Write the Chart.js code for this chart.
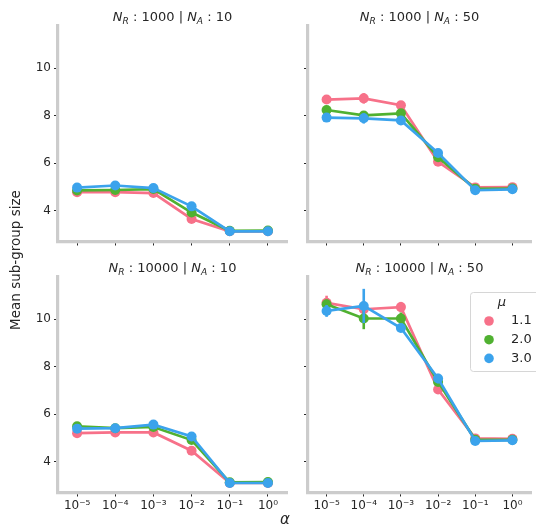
<!DOCTYPE html>
<html>
<head>
<meta charset="utf-8">
<script src="https://cdn.jsdelivr.net/npm/chart.js@4"></script>
<style>
  html, body { margin: 0; padding: 0; background: #fff; }
  #wrap { position: relative; width: 536px; height: 531px; overflow: hidden; }
  #wrap canvas { position: absolute; left: 0; top: 0; }
</style>
</head>
<body>
<div id="wrap">
  <canvas id="pA" width="536" height="531"></canvas>
  <canvas id="pB" width="536" height="531"></canvas>
  <canvas id="pC" width="536" height="531"></canvas>
  <canvas id="pD" width="536" height="531"></canvas>
</div>
<script>
// categories and tick labels
const alphaLabels = ['10⁻⁵', '10⁻⁴', '10⁻³', '10⁻²', '10⁻¹', '10⁰'];
const muLabels = ['1.1', '2.0', '3.0'];
const yTicks = [4, 6, 8, 10];

// N_R 1000 | N_A 10
const a_mu11 = [4.78, 4.78, 4.74, 3.65, 3.13, 3.13];
const a_mu20 = [4.85, 4.87, 4.91, 3.92, 3.15, 3.16];
const a_mu30 = [4.97, 5.06, 4.95, 4.18, 3.13, 3.13];
const a_err11 = [0.05, 0.05, 0.05, 0.08, 0.03, 0.03];
const a_err20 = [0.05, 0.05, 0.05, 0.08, 0.03, 0.03];
const a_err30 = [0.05, 0.05, 0.05, 0.08, 0.03, 0.03];

// N_R 1000 | N_A 50
const b_mu11 = [8.68, 8.73, 8.44, 6.06, 4.98, 4.99];
const b_mu20 = [8.24, 8.01, 8.10, 6.25, 4.92, 4.93];
const b_mu30 = [7.92, 7.89, 7.80, 6.43, 4.86, 4.90];
const b_err11 = [0.1, 0.22, 0.1, 0.1, 0.05, 0.05];
const b_err20 = [0.1, 0.1, 0.1, 0.1, 0.05, 0.05];
const b_err30 = [0.1, 0.22, 0.18, 0.1, 0.05, 0.05];

// N_R 10000 | N_A 10
const c_mu11 = [5.20, 5.23, 5.23, 4.46, 3.10, 3.10];
const c_mu20 = [5.49, 5.41, 5.46, 4.91, 3.13, 3.14];
const c_mu30 = [5.39, 5.41, 5.56, 5.06, 3.10, 3.10];
const c_err11 = [0.05, 0.05, 0.05, 0.08, 0.03, 0.03];
const c_err20 = [0.05, 0.05, 0.05, 0.08, 0.03, 0.03];
const c_err30 = [0.05, 0.05, 0.08, 0.08, 0.03, 0.03];

// N_R 10000 | N_A 50
const d_mu11 = [10.69, 10.42, 10.51, 7.04, 4.98, 4.96];
const d_mu20 = [10.63, 10.03, 10.03, 7.36, 4.92, 4.92];
const d_mu30 = [10.35, 10.56, 9.63, 7.50, 4.87, 4.90];
const d_err11 = [0.3, 0.1, 0.22, 0.12, 0.05, 0.05];
const d_err20 = [0.2, 0.45, 0.25, 0.15, 0.05, 0.05];
const d_err30 = [0.25, 0.72, 0.15, 0.2, 0.05, 0.05];

const colors = ['#f77189', '#50b131', '#3ba3ec'];
const textColor = '#262626';
const FONT = '"DejaVu Sans", sans-serif';

// error bars under each dataset's points
const errorBars = {
  id: 'errorBars',
  beforeDatasetDraw(chart, args) {
    const ds = chart.data.datasets[args.index];
    if (!ds.errors) return;
    const y = chart.scales.y;
    const ctx = chart.ctx;
    ctx.save();
    ctx.strokeStyle = ds.borderColor;
    ctx.lineWidth = 2.6;
    ds.data.forEach((v, i) => {
      const x = args.meta.data[i].x;
      ctx.beginPath();
      ctx.moveTo(x, y.getPixelForValue(v - ds.errors[i]));
      ctx.lineTo(x, y.getPixelForValue(v + ds.errors[i]));
      ctx.stroke();
    });
    ctx.restore();
  }
};

function drawFacetTitle(ctx, cx, cy, nr, na) {
  const fs = 13;
  const up = fs + 'px ' + FONT;
  const it = 'italic ' + fs + 'px ' + FONT;
  const sb = 'italic ' + (fs * 0.7).toFixed(1) + 'px ' + FONT;
  const segs = [[it, 'N', 0], [sb, 'R', 3], [up, ' : ' + nr + ' | ', 0],
                [it, 'N', 0], [sb, 'A', 3], [up, ' : ' + na, 0]];
  let w = 0;
  for (const s of segs) { ctx.font = s[0]; w += ctx.measureText(s[1]).width; }
  let x = cx - w / 2;
  ctx.fillStyle = textColor;
  ctx.textBaseline = 'alphabetic';
  ctx.textAlign = 'left';
  for (const s of segs) {
    ctx.font = s[0];
    ctx.fillText(s[1], x, cy + 4.5 + s[2]);
    x += ctx.measureText(s[1]).width;
  }
}

const facetTitle = {
  id: 'facetTitle',
  afterDraw(chart, args, opts) {
    const a = chart.chartArea;
    const ctx = chart.ctx;
    ctx.save();
    drawFacetTitle(ctx, (a.left + a.right) / 2, a.top - 9, opts.nr, opts.na);
    ctx.restore();
  }
};

const figureText = {
  id: 'figureText',
  afterDraw(chart, args, opts) {
    if (!opts.show) return;
    const ctx = chart.ctx;
    ctx.save();
    ctx.fillStyle = textColor;
    ctx.textAlign = 'center';
    ctx.textBaseline = 'middle';
    ctx.font = '13.5px ' + FONT;
    ctx.translate(16, 260);
    ctx.rotate(-Math.PI / 2);
    ctx.fillText('Mean sub-group size', 0, 0);
    ctx.restore();
    ctx.save();
    ctx.fillStyle = textColor;
    ctx.textAlign = 'center';
    ctx.textBaseline = 'middle';
    ctx.font = 'italic 15px ' + FONT;
    ctx.fillText('α', 285, 520);
    ctx.restore();
  }
};

const muLegend = {
  id: 'muLegend',
  afterDraw(chart, args, opts) {
    if (!opts.show) return;
    const ctx = chart.ctx;
    ctx.save();
    ctx.beginPath();
    ctx.roundRect(470.5, 292.5, 72, 79, 3);
    ctx.fillStyle = 'rgba(255,255,255,0.8)';
    ctx.fill();
    ctx.strokeStyle = '#d6d6d6';
    ctx.lineWidth = 1;
    ctx.stroke();
    ctx.fillStyle = textColor;
    ctx.textBaseline = 'middle';
    ctx.textAlign = 'center';
    ctx.font = 'italic 13px ' + FONT;
    ctx.fillText('μ', 502, 303);
    ctx.textAlign = 'left';
    ctx.font = '13px ' + FONT;
    chart.data.datasets.forEach((ds, i) => {
      const yy = 321 + i * 18.7;
      ctx.fillStyle = ds.borderColor;
      ctx.beginPath();
      ctx.arc(489, yy, 4.8, 0, Math.PI * 2);
      ctx.fill();
      ctx.fillStyle = textColor;
      ctx.fillText(ds.label, 511, yy);
    });
    ctx.restore();
  }
};

function makePanel(id, left, top, series, errs, opt) {
  const W = 229, H = 216;
  const datasets = series.map((s, i) => ({
    label: muLabels[i],
    data: s,
    errors: errs[i],
    borderColor: colors[i],
    backgroundColor: colors[i],
    pointBackgroundColor: colors[i],
    pointBorderWidth: 0,
    pointRadius: 5,
    borderWidth: 2.7,
    tension: 0,
    order: 3 - i
  }));
  new Chart(document.getElementById(id), {
    type: 'line',
    data: { labels: alphaLabels, datasets },
    options: {
      responsive: false,
      animation: false,
      events: [],
      layout: { padding: { left: left - 40, top: top, right: 536 - left - W, bottom: 531 - top - H - 40 } },
      plugins: {
        legend: { display: false },
        tooltip: { enabled: false },
        facetTitle: { nr: opt.nr, na: opt.na },
        figureText: { show: !!opt.figText },
        muLegend: { show: !!opt.legend }
      },
      scales: {
        x: {
          type: 'category',
          offset: true,
          afterFit: s => { s.height = 40; },
          border: { display: true, color: '#cccccc', width: 3.2 },
          grid: { display: true, drawOnChartArea: false, drawTicks: true, tickLength: 4, tickColor: textColor, tickWidth: 1, offset: false },
          ticks: { display: opt.xLabels, color: textColor, padding: 2, maxRotation: 0, autoSkip: false, font: { family: FONT, size: 12 } }
        },
        y: {
          type: 'linear',
          min: 2.7,
          max: 11.8,
          afterFit: s => { s.width = 40; },
          afterBuildTicks: s => { s.ticks = yTicks.map(v => ({ value: v })); },
          border: { display: true, color: '#cccccc', width: 3.2 },
          grid: { display: true, drawOnChartArea: false, drawTicks: true, tickLength: 4, tickColor: textColor, tickWidth: 1 },
          ticks: { display: opt.yLabels, color: textColor, padding: 3, font: { family: FONT, size: 12 } }
        }
      }
    },
    plugins: [errorBars, facetTitle, figureText, muLegend]
  });
}

makePanel('pA', 58, 25.5, [a_mu11, a_mu20, a_mu30], [a_err11, a_err20, a_err30],
  { nr: 1000, na: 10, xLabels: false, yLabels: true, figText: true });
makePanel('pB', 308, 25.5, [b_mu11, b_mu20, b_mu30], [b_err11, b_err20, b_err30],
  { nr: 1000, na: 50, xLabels: false, yLabels: false });
makePanel('pC', 58, 276.5, [c_mu11, c_mu20, c_mu30], [c_err11, c_err20, c_err30],
  { nr: 10000, na: 10, xLabels: true, yLabels: true });
makePanel('pD', 308, 276.5, [d_mu11, d_mu20, d_mu30], [d_err11, d_err20, d_err30],
  { nr: 10000, na: 50, xLabels: true, yLabels: false, legend: true });
</script>
</body>
</html>
